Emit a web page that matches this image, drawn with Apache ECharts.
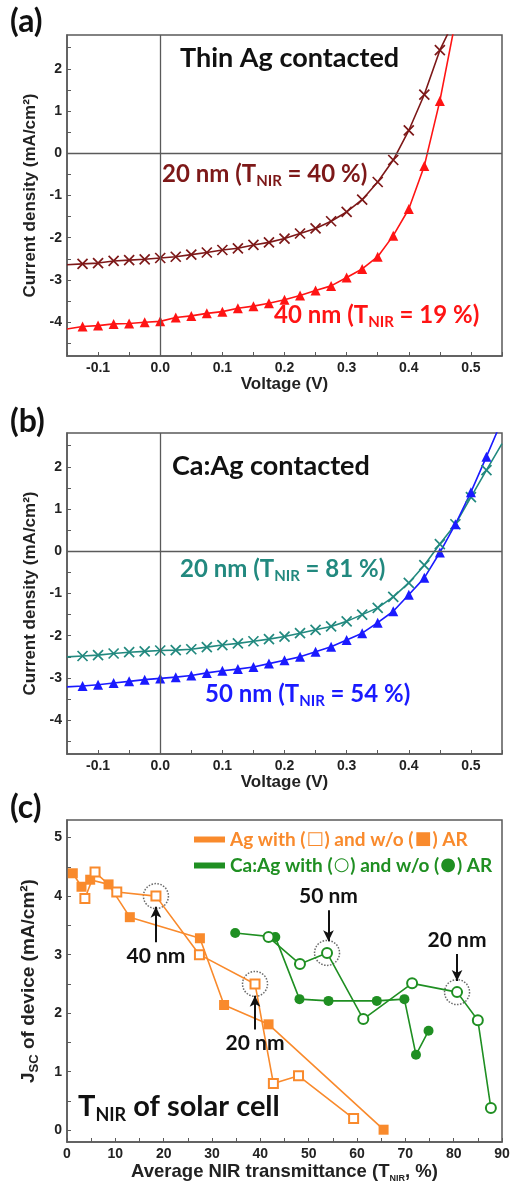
<!DOCTYPE html>
<html>
<head>
<meta charset="utf-8">
<script src="https://cdn.jsdelivr.net/npm/echarts@6/dist/echarts.min.js"></script>
<style>
  html, body { margin: 0; padding: 0; background: #fff; }
  #chart { width: 510px; height: 1190px; }
</style>
</head>
<body>
<div id="chart"></div>
<script>
// voltage points where markers sit (V)
var V_A = [-0.125, -0.1, -0.075, -0.05, -0.025, 0, 0.025, 0.05, 0.075, 0.1, 0.125, 0.15,
  0.175, 0.2, 0.225, 0.25, 0.275, 0.3, 0.325, 0.35, 0.375, 0.4, 0.425, 0.45]
var V_B = V_A.concat([0.475, 0.5, 0.525])

// (a) thin Ag contacted, current density (mA/cm2)
var J_AG20 = [-2.62, -2.60, -2.55, -2.53, -2.51, -2.48, -2.45, -2.40, -2.35, -2.29, -2.25, -2.17,
  -2.11, -2.02, -1.90, -1.78, -1.61, -1.39, -1.10, -0.68, -0.16, 0.54, 1.39, 2.44]
var J_AG40 = [-4.10, -4.08, -4.04, -4.03, -4.00, -3.98, -3.89, -3.85, -3.79, -3.75, -3.67, -3.62,
  -3.55, -3.47, -3.37, -3.25, -3.14, -2.94, -2.74, -2.45, -1.95, -1.32, -0.30, 1.24]
var AG20_ENDS = [[-0.15, -2.64], [0.47, 3.05]]
var AG40_ENDS = [[-0.15, -4.16], [0.476, 3.2]]

// (b) Ca:Ag contacted
var J_CA20 = [-2.48, -2.46, -2.42, -2.39, -2.37, -2.35, -2.34, -2.32, -2.27, -2.22, -2.18, -2.13,
  -2.08, -2.02, -1.94, -1.86, -1.78, -1.66, -1.50, -1.34, -1.08, -0.75, -0.33, 0.17, 0.64, 1.28, 1.92]
var J_CA50 = [-3.19, -3.16, -3.12, -3.08, -3.04, -3.01, -2.98, -2.94, -2.88, -2.83, -2.79, -2.74,
  -2.66, -2.58, -2.50, -2.38, -2.26, -2.10, -1.94, -1.69, -1.42, -1.03, -0.63, -0.03, 0.64, 1.40, 2.24]
var CA20_ENDS = [[-0.15, -2.50], [0.55, 2.55]]
var CA50_ENDS = [[-0.15, -3.21], [0.55, 3.1]]

// (c) Jsc vs average NIR transmittance
var AG_OPEN_T = [3.7, 5.8, 10.3, 18.4, 27.4, 38.9, 42.7, 47.9, 59.3]
var AG_OPEN_J = [3.96, 4.41, 4.07, 4.00, 3.00, 2.50, 0.80, 0.93, 0.20]
var AG_FILL_T = [1.2, 3.0, 4.8, 8.6, 13.0, 27.5, 32.5, 41.7, 65.5]
var AG_FILL_J = [4.39, 4.16, 4.28, 4.20, 3.64, 3.28, 2.14, 1.81, 0.01]
var CA_OPEN_T = [41.7, 48.2, 53.8, 61.3, 71.4, 80.7, 85.0, 87.7]
var CA_OPEN_J = [3.30, 2.84, 3.03, 1.90, 2.51, 2.36, 1.88, 0.38]
var CA_FILL_T = [34.8, 43.1, 48.1, 54.1, 64.1, 69.8, 72.2, 74.8]
var CA_FILL_J = [3.37, 3.30, 2.24, 2.21, 2.21, 2.24, 1.29, 1.70]

// circled devices and arrows (T, J at circle, arrow tail J, arrow tip J)
var HL_NAMES = ['40 nm', '20 nm', '50 nm', '20 nm']
var HL_T = [18.4, 38.9, 53.8, 80.7]
var HL_J = [4.00, 2.50, 3.03, 2.36]
var ARROW_T = [18.4, 38.9, 54.1, 80.7]
var ARROW_TAIL = [3.21, 1.72, 3.76, 3.01]
var ARROW_TIP = [3.82, 2.30, 3.23, 2.55]

// tick / label values
var V_LABELS = [-0.1, 0, 0.1, 0.2, 0.3, 0.4, 0.5]
var V_TICKS = [-0.15, -0.1, -0.05, 0, 0.05, 0.1, 0.15, 0.2, 0.25, 0.3, 0.35, 0.4, 0.45, 0.5, 0.55]
var J_LABELS = [-4, -3, -2, -1, 0, 1, 2]
var J_TICKS = [-4.5, -4, -3.5, -3, -2.5, -2, -1.5, -1, -0.5, 0, 0.5, 1, 1.5, 2, 2.5]
var T_LABELS = [0, 10, 20, 30, 40, 50, 60, 70, 80, 90]
var T_TICKS = [0, 5, 10, 15, 20, 25, 30, 35, 40, 45, 50, 55, 60, 65, 70, 75, 80, 85, 90]
var JSC_LABELS = [0, 1, 2, 3, 4, 5]
var JSC_TICKS = [0, 0.5, 1, 1.5, 2, 2.5, 3, 3.5, 4, 4.5, 5]

var AG_LEGEND = 'Ag with (\u25A1) and w/o (\u25A0) AR'
var CA_LEGEND = 'Ca:Ag with (\u25CB) and w/o (\u25CF) AR'

var AXIS_COLOR = '#5a5a5a'
var CROSS = 'path://M0,0L10,10M10,0L0,10'
var ORANGE = '#f98a2c'
var GREEN = '#1f8f22'
var SANS = 'Liberation Sans'

function curve(vs, js, ends) {
  var data = [{ value: ends[0], symbol: 'none' }]
  vs.forEach(function(v, i) { data.push([v, js[i]]) })
  data.push({ value: ends[1], symbol: 'none' })
  return data
}
function pairs(xs, ys) {
  return xs.map(function(x, i) { return [x, ys[i]] })
}

function axisCommon() {
  return {
    type: 'value',
    nameLocation: 'middle',
    nameTextStyle: { fontFamily: SANS, fontWeight: 'bold', fontSize: 17, color: '#222' },
    axisLine: { show: true, onZero: false, lineStyle: { color: AXIS_COLOR, width: 1.5 } },
    axisTick: { show: true, inside: true, length: 4, lineStyle: { color: AXIS_COLOR, width: 1 } },
    axisLabel: { fontFamily: SANS, fontWeight: 'bold', fontSize: 14, color: '#222', margin: 5 },
    splitLine: { show: false }
  }
}
function vAxis(idx) {
  var a = axisCommon()
  a.gridIndex = idx
  a.min = -0.15
  a.max = 0.55
  a.name = 'Voltage (V)'
  a.nameGap = 18
  a.axisTick.customValues = V_TICKS
  a.axisLabel.customValues = V_LABELS
  a.axisLabel.formatter = function(v) { return v.toFixed(1) }
  return a
}
function jAxis(idx) {
  var a = axisCommon()
  a.gridIndex = idx
  a.min = -4.8
  a.max = 2.8
  a.name = 'Current density (mA/cm\u00B2)'
  a.nameGap = 28
  a.axisTick.customValues = J_TICKS
  a.axisLabel.customValues = J_LABELS
  return a
}

var tAxis = axisCommon()
tAxis.gridIndex = 2
tAxis.min = 0
tAxis.max = 90
tAxis.name = '{n|Average NIR transmittance (T}{s|NIR}{n|, %)}'
tAxis.nameGap = 19
tAxis.nameTextStyle.rich = {
  n: { fontFamily: SANS, fontWeight: 'bold', fontSize: 18.5, color: '#222', verticalAlign: 'middle', lineHeight: 22 },
  s: { fontFamily: SANS, fontWeight: 'bold', fontSize: 9, color: '#222', verticalAlign: 'bottom', lineHeight: 9 }
}
tAxis.axisTick.customValues = T_TICKS
tAxis.axisLabel.customValues = T_LABELS

var jscAxis = axisCommon()
jscAxis.gridIndex = 2
jscAxis.min = -0.2
jscAxis.max = 5.3
jscAxis.name = '{n|J}{s|SC}{n| of device (mA/cm\u00B2)}'
jscAxis.nameGap = 26
jscAxis.nameTextStyle.rich = {
  n: { fontFamily: SANS, fontWeight: 'bold', fontSize: 19, color: '#222', verticalAlign: 'middle', lineHeight: 24 },
  s: { fontFamily: SANS, fontWeight: 'bold', fontSize: 13, color: '#222', verticalAlign: 'bottom', lineHeight: 13 }
}
jscAxis.axisTick.customValues = JSC_TICKS
jscAxis.axisLabel.customValues = JSC_LABELS

var zeroLines = {
  silent: true,
  symbol: 'none',
  label: { show: false },
  lineStyle: { color: AXIS_COLOR, type: 'solid', width: 1.3 },
  data: [{ xAxis: 0 }, { yAxis: 0 }]
}

function ivSeries(name, idx, data, color, symbol, size, withZero) {
  var s = {
    name: name,
    type: 'line',
    xAxisIndex: idx,
    yAxisIndex: idx,
    data: data,
    symbol: symbol,
    symbolSize: size,
    lineStyle: { color: color, width: 1.6 },
    itemStyle: { color: color, borderColor: color, borderWidth: symbol === CROSS ? 1.7 : 0 },
    z: 3
  }
  if (withZero) s.markLine = zeroLines
  return s
}

function subLabel(x, y, main1, sub, main2, color, size) {
  return {
    type: 'text',
    left: x,
    top: y,
    style: {
      text: '{m|' + main1 + '}{s|' + sub + '}{m|' + main2 + '}',
      rich: {
        m: { fontFamily: 'Lato', fontWeight: 'bold', fontSize: size, fill: color, verticalAlign: 'middle', lineHeight: size + 6 },
        s: { fontFamily: 'Lato', fontWeight: 'bold', fontSize: Math.round(size * 0.62), fill: color, verticalAlign: 'bottom', lineHeight: Math.round(size * 0.62) }
      }
    }
  }
}
function plainText(x, y, text, size, color) {
  return {
    type: 'text',
    left: x,
    top: y,
    style: { text: text, fontFamily: 'Lato', fontWeight: 'bold', fontSize: size, fill: color || '#111' }
  }
}

var arrowData = ARROW_T.map(function(t, i) {
  return [
    { coord: [t, ARROW_TAIL[i]], label: { formatter: HL_NAMES[i] } },
    { coord: [t, ARROW_TIP[i]] }
  ]
})

function legendRich(color) {
  return {
    color: color,
    rich: {
      t: { fontFamily: 'Lato', fontWeight: 'bold', fontSize: 19, color: color },
      sym: { fontFamily: 'DejaVu Sans', fontWeight: 'bold', fontSize: 18, color: color, padding: [0, 1, 0, 1] }
    }
  }
}

var chart = echarts.init(document.getElementById('chart'), null, { renderer: 'canvas' })
chart.setOption({
  animation: false,
  backgroundColor: '#fff',
  grid: [
    { left: 67, top: 35, width: 435, height: 321, show: true, borderColor: AXIS_COLOR, borderWidth: 1.5, outerBoundsMode: 'none' },
    { left: 67, top: 433, width: 435, height: 321, show: true, borderColor: AXIS_COLOR, borderWidth: 1.5, outerBoundsMode: 'none' },
    { left: 67, top: 820, width: 435, height: 322, show: true, borderColor: AXIS_COLOR, borderWidth: 1.5, outerBoundsMode: 'none' }
  ],
  xAxis: [vAxis(0), vAxis(1), tAxis],
  yAxis: [jAxis(0), jAxis(1), jscAxis],
  legend: {
    left: 189,
    top: 825,
    orient: 'vertical',
    selectedMode: false,
    icon: 'rect',
    itemWidth: 31,
    itemHeight: 6,
    itemGap: 7,
    formatter: function(name) {
      return name.split(/([\u25A0-\u25CF])/).map(function(part) {
        if (!part) return ''
        return /[\u25A0-\u25CF]/.test(part) ? '{sym|' + part + '}' : '{t|' + part + '}'
      }).join('')
    },
    textStyle: { fontFamily: 'Lato', fontWeight: 'bold', fontSize: 19 },
    data: [
      { name: AG_LEGEND, textStyle: legendRich(ORANGE) },
      { name: CA_LEGEND, textStyle: legendRich(GREEN) }
    ]
  },
  series: [
    ivSeries('20 nm', 0, curve(V_A, J_AG20, AG20_ENDS), '#7d1818', CROSS, 10, true),
    ivSeries('40 nm', 0, curve(V_A, J_AG40, AG40_ENDS), '#ff1414', 'triangle', 10, false),
    ivSeries('20 nm b', 1, curve(V_B, J_CA20, CA20_ENDS), '#22897f', CROSS, 10, true),
    ivSeries('50 nm b', 1, curve(V_B, J_CA50, CA50_ENDS), '#1a1aff', 'triangle', 10, false),
    {
      name: 'Ag w/o AR', type: 'line', xAxisIndex: 2, yAxisIndex: 2,
      data: pairs(AG_FILL_T, AG_FILL_J), symbol: 'rect', symbolSize: 10,
      lineStyle: { color: ORANGE, width: 1.6 }, itemStyle: { color: ORANGE }
    },
    {
      name: AG_LEGEND, type: 'line', xAxisIndex: 2, yAxisIndex: 2,
      data: pairs(AG_OPEN_T, AG_OPEN_J), symbol: 'emptyRect', symbolSize: 9,
      lineStyle: { color: ORANGE, width: 1.6 }, itemStyle: { color: ORANGE, borderWidth: 1.6 }
    },
    {
      name: 'Ca:Ag w/o AR', type: 'line', xAxisIndex: 2, yAxisIndex: 2,
      data: pairs(CA_FILL_T, CA_FILL_J), symbol: 'circle', symbolSize: 10,
      lineStyle: { color: GREEN, width: 1.6 }, itemStyle: { color: GREEN }
    },
    {
      name: CA_LEGEND, type: 'line', xAxisIndex: 2, yAxisIndex: 2,
      data: pairs(CA_OPEN_T, CA_OPEN_J), symbol: 'emptyCircle', symbolSize: 10,
      lineStyle: { color: GREEN, width: 1.6 }, itemStyle: { color: GREEN, borderWidth: 1.6 }
    },
    {
      name: 'highlight', type: 'scatter', xAxisIndex: 2, yAxisIndex: 2,
      data: pairs(HL_T, HL_J), symbol: 'circle', symbolSize: 25, silent: true, z: 1,
      itemStyle: { color: 'rgba(0,0,0,0)', borderColor: '#444', borderWidth: 1.5, borderType: 'dotted' },
      markLine: {
        silent: true,
        symbol: ['none', 'arrow'],
        symbolSize: [8, 11],
        lineStyle: { color: '#111', width: 2, type: 'solid' },
        label: {
          show: true, position: 'start', distance: 3,
          fontFamily: 'Lato', fontWeight: 'bold', fontSize: 21, color: '#111'
        },
        data: arrowData
      }
    }
  ],
  graphic: [
    plainText(10, 6, '(a)', 32),
    plainText(10, 406, '(b)', 32),
    plainText(10, 792, '(c)', 32),
    plainText(180, 45, 'Thin Ag contacted', 27),
    plainText(172, 453, 'Ca:Ag contacted', 27),
    subLabel(162, 162, '20 nm (T', 'NIR', ' = 40 %)', '#7d1818', 24),
    subLabel(274, 303, '40 nm (T', 'NIR', ' = 19 %)', '#ff1414', 24),
    subLabel(180, 557, '20 nm (T', 'NIR', ' = 81 %)', '#22897f', 24),
    subLabel(205, 682, '50 nm (T', 'NIR', ' = 54 %)', '#1a1aff', 24),
    subLabel(78, 1092, 'T', 'NIR', ' of solar cell', '#111', 29)
  ]
})
</script>
</body>
</html>
